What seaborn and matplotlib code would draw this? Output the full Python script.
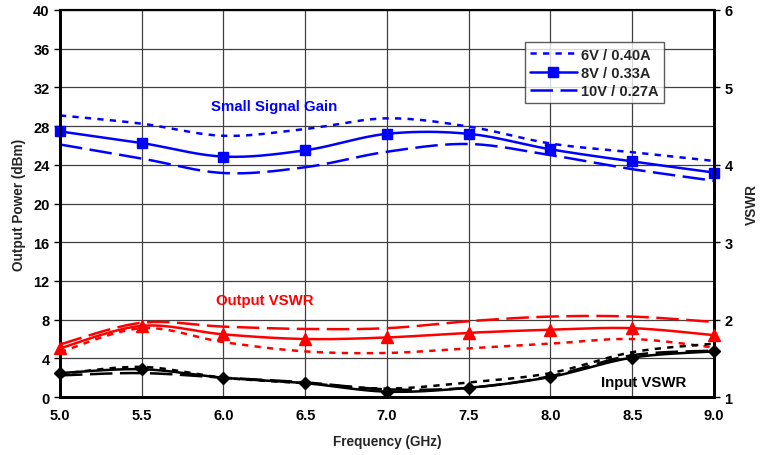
import numpy as np
import matplotlib
matplotlib.use("Agg")
import matplotlib.pyplot as plt
import seaborn as sns

freq = [5.0, 5.5, 6.0, 6.5, 7.0, 7.5, 8.0, 8.5, 9.0]

# small signal gain (dBm, left axis)
gain_6v = [29.1, 28.25, 27.0, 27.7, 28.8, 27.95, 26.2, 25.3, 24.4]
gain_8v = [27.45, 26.25, 24.85, 25.5, 27.2, 27.2, 25.6, 24.35, 23.2]
gain_10v = [26.1, 24.65, 23.15, 23.75, 25.35, 26.15, 25.0, 23.55, 22.35]

# output VSWR (right axis)
out_6v = [1.58, 1.89, 1.71, 1.59, 1.57, 1.63, 1.69, 1.75, 1.64]
out_8v = [1.63, 1.92, 1.81, 1.75, 1.77, 1.83, 1.87, 1.89, 1.80]
out_10v = [1.68, 1.96, 1.91, 1.88, 1.89, 1.98, 2.04, 2.04, 1.97]

# input VSWR (right axis)
in_6v = [1.30, 1.39, 1.25, 1.18, 1.11, 1.19, 1.31, 1.58, 1.69]
in_8v = [1.31, 1.36, 1.25, 1.18, 1.07, 1.12, 1.26, 1.51, 1.59]
in_10v = [1.28, 1.31, 1.25, 1.19, 1.10, 1.12, 1.27, 1.54, 1.60]

labels = ["6V / 0.40A", "8V / 0.33A", "10V / 0.27A"]


def smooth(x, y, n=30):
    # excel style smoothed line (bezier through the points)
    x = np.asarray(x, float)
    y = np.asarray(y, float)
    px = np.concatenate([[x[0]], x, [x[-1]]])
    py = np.concatenate([[y[0]], y, [y[-1]]])
    t = np.linspace(0, 1, n)[:, None]
    xs, ys = [], []
    for i in range(len(x) - 1):
        p0 = np.array([px[i], py[i]])
        p1 = np.array([px[i + 1], py[i + 1]])
        p2 = np.array([px[i + 2], py[i + 2]])
        p3 = np.array([px[i + 3], py[i + 3]])
        c1 = p1 + (p2 - p0) / 6
        c2 = p2 - (p3 - p1) / 6
        b = ((1 - t) ** 3) * p1 + 3 * ((1 - t) ** 2) * t * c1 + 3 * (1 - t) * t ** 2 * c2 + t ** 3 * p2
        xs.append(b[:, 0])
        ys.append(b[:, 1])
    return np.concatenate(xs), np.concatenate(ys)


sns.set_style("white")
plt.rcParams["font.family"] = ["Liberation Sans", "DejaVu Sans"]
plt.rcParams["font.weight"] = "bold"

fig = plt.figure(figsize=(7.64, 4.56), dpi=100)
ax = fig.add_axes([0.0785, 0.127, 0.856, 0.849])
ax2 = ax.twinx()

dot = (0, (2.5, 2.5))
dash = (0, (9, 3))
lw = 1.8
fs = 10.5
lab_fs = 9.8

# gain
for vals, ls, mk in [(gain_6v, dot, None), (gain_8v, "-", "s"), (gain_10v, dash, None)]:
    sx, sy = smooth(freq, vals)
    sns.lineplot(x=sx, y=sy, ax=ax, color="#0000ff", linestyle=ls, linewidth=lw,
                 sort=False, estimator=None)
    if mk:
        ax.plot(freq, vals, linestyle="none", marker=mk, markersize=7.5,
                color="#0000ff", clip_on=False, zorder=5)

# output and input vswr
for series, col, mk, ms in [((out_6v, out_8v, out_10v), "#ff0000", "^", 8),
                            ((in_6v, in_8v, in_10v), "black", "D", 6)]:
    for vals, ls, m in zip(series, [dot, "-", dash], [None, mk, None]):
        sx, sy = smooth(freq, vals)
        sns.lineplot(x=sx, y=sy, ax=ax2, color=col, linestyle=ls, linewidth=lw,
                     sort=False, estimator=None)
        if m:
            ax2.plot(freq, vals, linestyle="none", marker=m, markersize=ms,
                     color=col, clip_on=False, zorder=5)

ax.set_xlim(5.0, 9.0)
ax.set_ylim(0, 40)
ax2.set_ylim(1, 6)
ax.set_xticks(freq)
ax.set_xticklabels([f"{f:.1f}" for f in freq])
ax.set_yticks(np.arange(0, 41, 4))
ax2.set_yticks(np.arange(1, 7, 1))

ax.grid(True, color="#404040", linewidth=0.9)
ax.set_axisbelow(True)
for a in (ax, ax2):
    for s in ["left", "right", "bottom"]:
        a.spines[s].set_linewidth(2)
    a.spines["top"].set_linewidth(1.5)
    for s in a.spines.values():
        s.set_color("black")
    a.tick_params(labelsize=fs, width=1, length=4, color="black", labelcolor="black")

ax.tick_params(axis="both", direction="out")
ax2.tick_params(axis="y", direction="out")
ax.set_xlabel("Frequency (GHz)", fontsize=lab_fs, fontweight="bold", labelpad=9)
ax.set_ylabel("Output Power (dBm)", fontsize=lab_fs, fontweight="bold", labelpad=5)
ax2.set_ylabel("VSWR", fontsize=lab_fs, fontweight="bold", labelpad=9)

ax.text(6.31, 30.1, "Small Signal Gain", color="#0000ff", fontsize=10.8,
        fontweight="bold", ha="center", va="center")
ax.text(6.25, 10.0, "Output VSWR", color="#ff0000", fontsize=10.8,
        fontweight="bold", ha="center", va="center")
ax.text(8.57, 1.6, "Input VSWR", color="black", fontsize=10.8,
        fontweight="bold", ha="center", va="center")

handles = [
    plt.Line2D([], [], color="#0000ff", linestyle=dot, linewidth=lw),
    plt.Line2D([], [], color="#0000ff", linestyle="-", linewidth=lw, marker="s", markersize=7.5),
    plt.Line2D([], [], color="#0000ff", linestyle=dash, linewidth=lw),
]
leg = ax.legend(handles, labels, loc="upper left", bbox_to_anchor=(0.7, 0.935),
                frameon=True, fancybox=False, edgecolor="#333333", fontsize=fs,
                handlelength=3.2, handletextpad=0.3, borderpad=0.35, labelspacing=0.3)
leg.get_frame().set_linewidth(1.0)
for t in leg.get_texts():
    t.set_fontweight("bold")

fig.savefig("out.png", dpi=100)
